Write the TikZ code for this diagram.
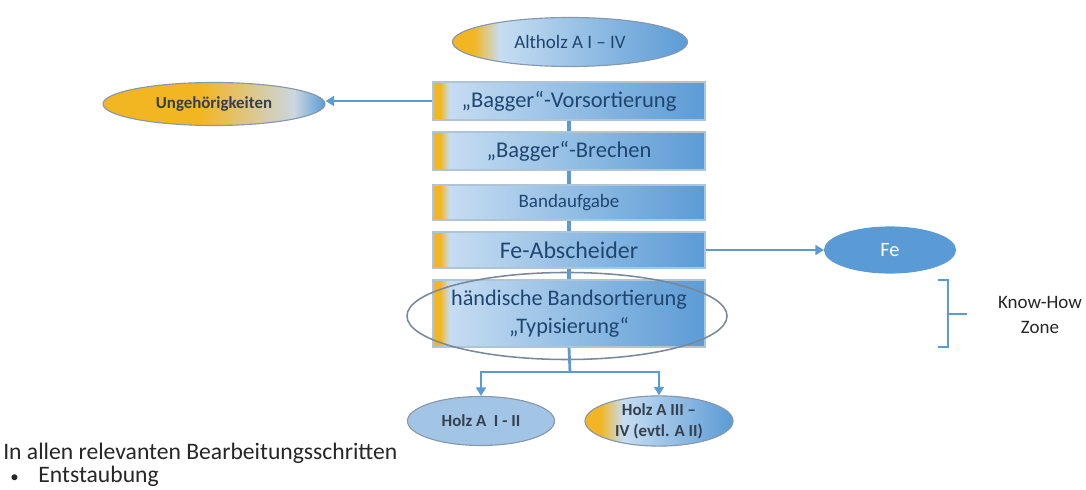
\documentclass[tikz,border=0pt]{standalone}
\usepackage{fontspec}
\setmainfont{Carlito}
\usetikzlibrary{shapes.geometric, arrows.meta, positioning}

\definecolor{goldfill}{HTML}{F2B622}
\definecolor{palefill}{HTML}{C6DDF2}
\definecolor{bluefill}{HTML}{5B9BD5}
\definecolor{greyfill}{HTML}{CBD6E0}
\definecolor{holzfill}{HTML}{A2C5E6}
\definecolor{textblue}{HTML}{1F4670}
\definecolor{textgrey}{HTML}{34404D}
\definecolor{rimgrey}{HTML}{8797AC}
\definecolor{boxrim}{HTML}{B0C4D8}

% horizontal fades, the middle 50bp cover the shape
\pgfdeclarehorizontalshading{stepfade}{100bp}{color(0bp)=(goldfill); color(25bp)=(goldfill); color(26.3bp)=(goldfill); color(28bp)=(palefill); color(75bp)=(bluefill); color(100bp)=(bluefill)}
\pgfdeclarehorizontalshading{topfade}{100bp}{color(0bp)=(goldfill); color(25bp)=(goldfill); color(29.5bp)=(goldfill); color(35bp)=(palefill); color(75bp)=(bluefill); color(100bp)=(bluefill)}
\pgfdeclarehorizontalshading{wastefade}{100bp}{color(0bp)=(goldfill); color(25bp)=(goldfill); color(47bp)=(goldfill); color(68bp)=(greyfill); color(75bp)=(bluefill); color(100bp)=(bluefill)}
\pgfdeclarehorizontalshading{woodfade}{100bp}{color(0bp)=(goldfill); color(25bp)=(goldfill); color(30bp)=(goldfill); color(38bp)=(palefill); color(75bp)=(bluefill); color(100bp)=(bluefill)}

\tikzset{
    stepbox/.style={rectangle, draw=boxrim, line width=0.8pt, shade, shading=stepfade,
        minimum width=6.8cm, inner sep=0pt, text=textblue, align=center,
        font=\fontsize{16}{20}\selectfont},
    oval/.style={ellipse, draw=rimgrey, line width=0.8pt, inner sep=0pt, align=center},
    link/.style={draw=bluefill, line width=3pt},
    flow/.style={draw=bluefill, line width=2pt, -{Triangle[length=6pt, width=7pt]}},
}

\begin{document}
\begin{tikzpicture}[x=0.025cm, y=-0.025cm]
    \useasboundingbox (0,0) rectangle (1086,490); % page frame

    % input material
    \node[oval, shade, shading=topfade, minimum width=5.875cm, minimum height=1.225cm,
        text=textblue, font=\fontsize{13.5}{16}\selectfont] (altholz) at (570,42) {Altholz A I – IV};

    % chain of process steps
    \node[stepbox, minimum height=0.95cm] (vorsort) at (569,101) {„Bagger“-Vorsortierung};
    \node[stepbox, minimum height=0.95cm] (brechen) at (569,151) {„Bagger“-Brechen};
    \node[stepbox, minimum height=0.875cm, font=\fontsize{13.5}{16}\selectfont] (band) at (569,202.5) {Bandaufgabe};
    \node[stepbox, minimum height=0.9cm, font=\fontsize{17}{20}\selectfont] (fesep) at (569,250) {Fe-Abscheider};
    \node[stepbox, minimum height=1.675cm, font=\fontsize{15.8}{20}\selectfont] (sort) at (569,313.5) {händische Bandsortierung\\„Typisierung“};
    \node[oval, draw=rimgrey!90!black, line width=1.1pt, minimum width=8cm, minimum height=2.175cm] (zone) at (567,316) {}; % ring round the sorting step

    % side outputs
    \node[oval, shade, shading=wastefade, minimum width=5.55cm, minimum height=1.075cm,
        text=textgrey, font=\bfseries\fontsize{12}{14}\selectfont] (waste) at (214,104) {Ungehörigkeiten};
    \node[oval, draw=bluefill, fill=bluefill, minimum width=3.275cm, minimum height=1.15cm,
        text=white, font=\fontsize{14.5}{16}\selectfont] (fe) at (890,250) {Fe};

    % products
    \node[oval, fill=holzfill, minimum width=3.675cm, minimum height=1.225cm,
        text=textgrey, font=\bfseries\fontsize{12}{14}\selectfont] (holzlow) at (481,421) {Holz A \ I - II};
    \node[oval, shade, shading=woodfade, minimum width=3.7cm, minimum height=1.225cm,
        text=textgrey, font=\bfseries\fontsize{12}{15}\selectfont] (holzhigh) at (659,421) {Holz A III –\\IV (evtl. A II)};

    % connectors between the steps
    \draw[link] (vorsort) -- (brechen);
    \draw[link] (brechen) -- (band);
    \draw[link] (band) -- (fesep);
    \draw[link] (fesep) -- (sort);

    \draw[flow] (vorsort.west) -- (vorsort.west -| waste.east); % sorted out
    \draw[flow] (fesep.east) -- (fe.west); % magnetic part

    \draw[line width=2pt, bluefill] (sort.south) -- (570,372) coordinate (split);
    \draw[flow] (split) -| (holzlow.north);
    \draw[flow] (split) -| (holzhigh.north);

    % bracket for the zone
    \node[align=center, text=black!85, font=\fontsize{13.5}{17.7}\selectfont] (knowhow) at (1040,315) {Know-How\\Zone};
    \draw[line width=2pt, bluefill] (938,280) -| (948,347) -- (938,347);
    \draw[line width=2pt, bluefill] (948,314) -- (967,314);

    % note at the bottom
    \node[anchor=base west, inner sep=0pt, text=black!85, font=\fontsize{16.8}{19}\selectfont] (stepsnote) at (3,460) {In allen relevanten Bearbeitungsschritten};
    \node[anchor=base west, inner sep=0pt, text=black!85, font=\fontsize{16.8}{19}\selectfont] (dustnote) at (3,483) {\makebox[25pt][l]{\hspace{5pt}{\fontsize{12}{12}\selectfont •}}Entstaubung};
\end{tikzpicture}
\end{document}
